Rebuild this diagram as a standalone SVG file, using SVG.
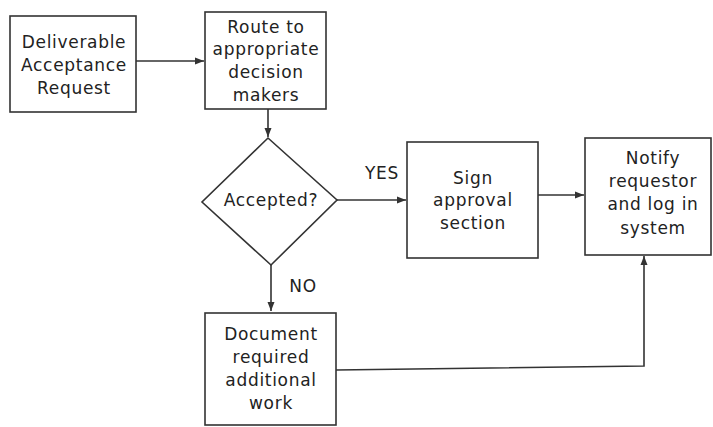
<svg xmlns="http://www.w3.org/2000/svg" width="713" height="427" viewBox="0 0 713 427">
<defs>
<marker id="ah" markerWidth="10" markerHeight="8" refX="9" refY="4" orient="auto" markerUnits="userSpaceOnUse">
<path d="M0,0.5 L9,4 L0,7.5 z" fill="#333"/>
</marker>
<style>
.box{fill:#fff;stroke:#333;stroke-width:1.6}
.t{font-family:"DejaVu Sans","Open Sans",sans-serif;font-size:17px;letter-spacing:0.7px;fill:#222;text-anchor:middle}
.c{fill:none;stroke:#333;stroke-width:1.6}
</style>
</defs>
<rect width="713" height="427" fill="#fff"/>
<g id="connectors">
<line class="c" x1="136" y1="61" x2="204" y2="61" marker-end="url(#ah)"/>
<line class="c" x1="268" y1="109" x2="268" y2="137" marker-end="url(#ah)"/>
<line class="c" x1="337" y1="200" x2="406" y2="200" marker-end="url(#ah)"/>
<line class="c" x1="538" y1="195" x2="584" y2="195" marker-end="url(#ah)"/>
<line class="c" x1="271" y1="265" x2="271" y2="311" marker-end="url(#ah)"/>
<polyline class="c" points="336,370 644,366 644,256" marker-end="url(#ah)"/>
<text class="t" x="382" y="179">YES</text>
<text class="t" x="303" y="292">NO</text>
</g>
<g id="n1">
<rect class="box" x="10" y="16" width="126" height="96"/>
<text class="t" x="74" y="48">Deliverable</text>
<text class="t" x="74" y="71">Acceptance</text>
<text class="t" x="74" y="94">Request</text>
</g>
<g id="n2">
<rect class="box" x="205" y="12" width="121" height="97"/>
<text class="t" x="266" y="33">Route to</text>
<text class="t" x="266" y="55">appropriate</text>
<text class="t" x="266" y="78">decision</text>
<text class="t" x="266" y="101">makers</text>
</g>
<g id="n3">
<polygon class="box" points="268,138 337,200 271,265 202,202"/>
<text class="t" x="271" y="206">Accepted?</text>
</g>
<g id="n4">
<rect class="box" x="407" y="142" width="131" height="116"/>
<text class="t" x="473" y="184">Sign</text>
<text class="t" x="473" y="206">approval</text>
<text class="t" x="473" y="229">section</text>
</g>
<g id="n5">
<rect class="box" x="585" y="138" width="126" height="117"/>
<text class="t" x="653" y="164">Notify</text>
<text class="t" x="653" y="187">requestor</text>
<text class="t" x="653" y="210">and log in</text>
<text class="t" x="653" y="234">system</text>
</g>
<g id="n6">
<rect class="box" x="205" y="313" width="131" height="112"/>
<text class="t" x="271" y="340">Document</text>
<text class="t" x="271" y="363">required</text>
<text class="t" x="271" y="386">additional</text>
<text class="t" x="271" y="409">work</text>
</g>
</svg>
